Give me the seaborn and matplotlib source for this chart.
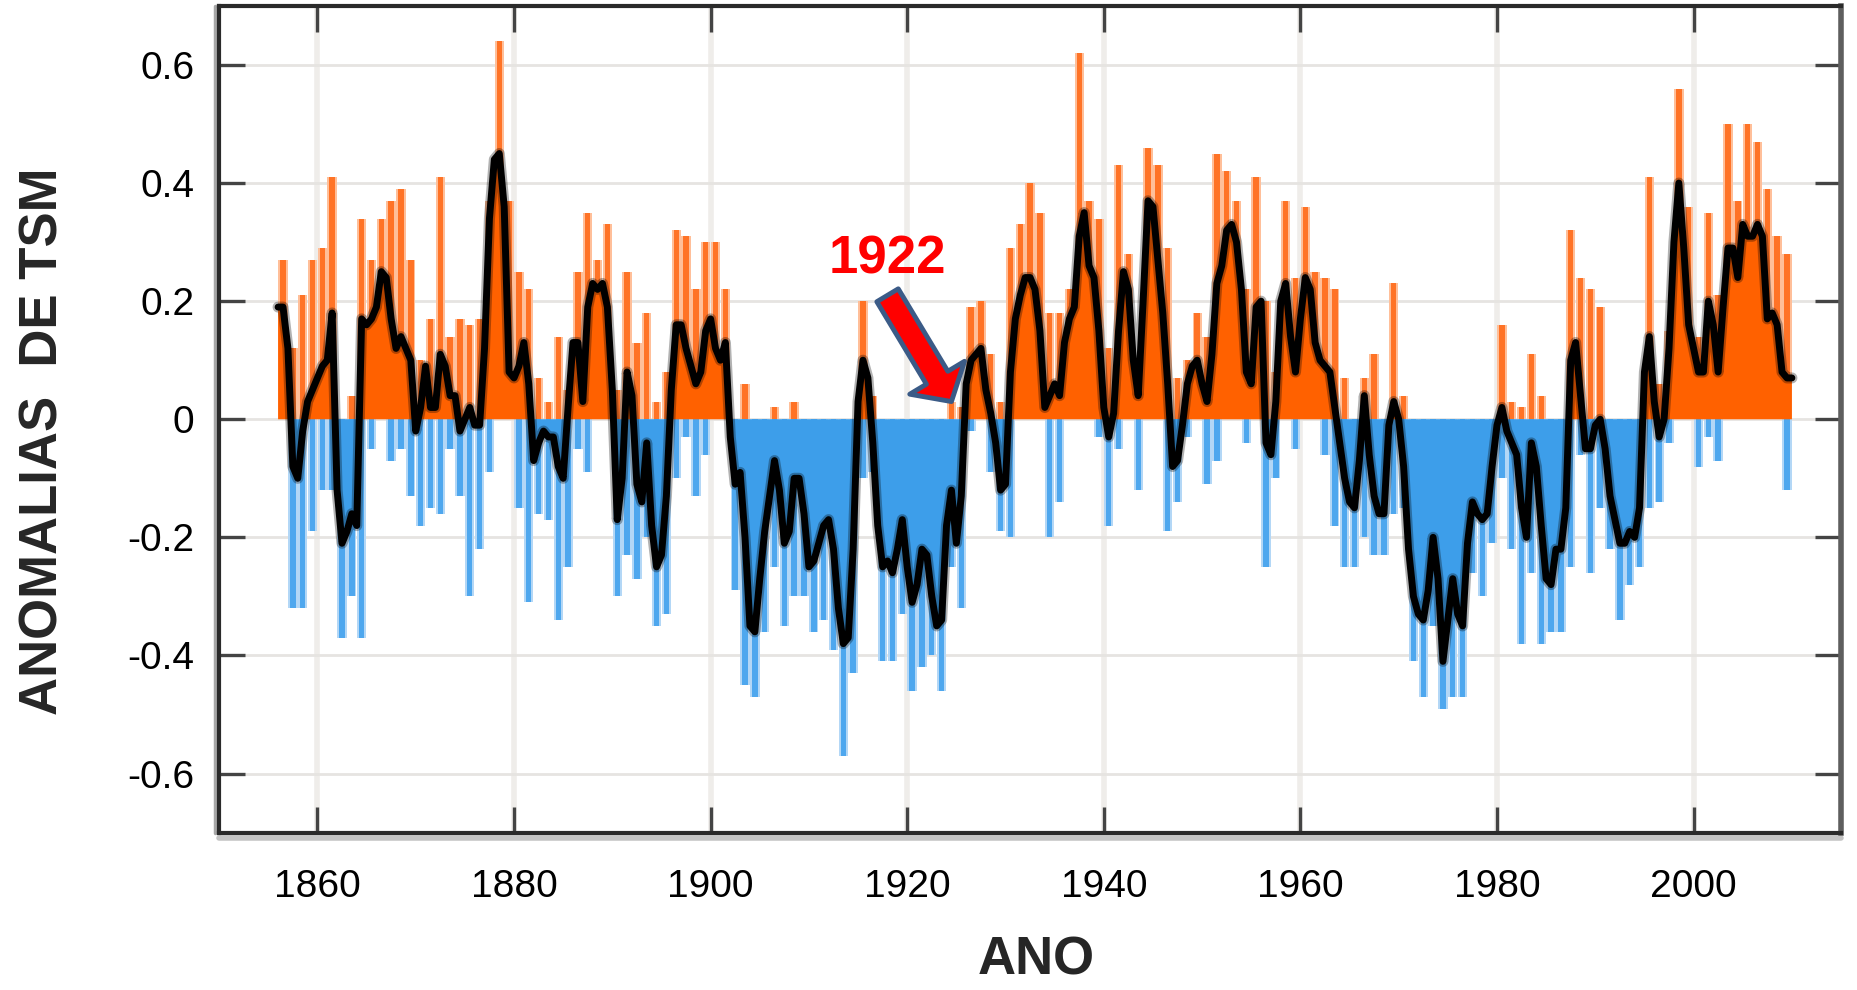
"""Anomalias de TSM (1856-2010) com destaque para 1922."""
import numpy as np
import pandas as pd
import matplotlib
matplotlib.use("Agg")
import matplotlib.pyplot as plt
import matplotlib.transforms as mtransforms
import seaborn as sns

# curva suavizada (linha preta), passo de meio ano a partir de 1856.0
SMOOTH_START = 1856.0
smooth_anom = [
    0.19, 0.19, 0.12, -0.08, -0.10, -0.02, 0.03, 0.05, 0.07, 0.09, 0.10, 0.18, -0.12, -0.21, -0.19, -0.16, -0.18, 0.17, 0.16, 0.17,
    0.19, 0.25, 0.24, 0.17, 0.12, 0.14, 0.12, 0.10, -0.02, 0.02, 0.09, 0.02, 0.02, 0.11, 0.09, 0.04, 0.04, -0.02, 0.00, 0.02,
    -0.01, -0.01, 0.12, 0.34, 0.44, 0.45, 0.36, 0.08, 0.07, 0.09, 0.13, 0.06, -0.07, -0.04, -0.02, -0.03, -0.03, -0.08, -0.10, 0.02,
    0.13, 0.13, 0.03, 0.19, 0.23, 0.22, 0.23, 0.19, 0.05, -0.17, -0.10, 0.08, 0.04, -0.11, -0.14, -0.04, -0.18, -0.25, -0.23, -0.13,
    0.05, 0.16, 0.16, 0.12, 0.09, 0.06, 0.08, 0.15, 0.17, 0.12, 0.10, 0.13, -0.03, -0.11, -0.09, -0.20, -0.35, -0.36, -0.27, -0.19,
    -0.13, -0.07, -0.12, -0.21, -0.19, -0.10, -0.10, -0.16, -0.25, -0.24, -0.21, -0.18, -0.17, -0.22, -0.32, -0.38, -0.37, -0.22, 0.03, 0.10,
    0.07, -0.04, -0.18, -0.25, -0.24, -0.26, -0.22, -0.17, -0.25, -0.31, -0.28, -0.22, -0.23, -0.30, -0.35, -0.34, -0.18, -0.12, -0.21, -0.13,
    0.06, 0.10, 0.11, 0.12, 0.05, 0.01, -0.04, -0.12, -0.11, 0.08, 0.17, 0.21, 0.24, 0.24, 0.22, 0.15, 0.02, 0.04, 0.06, 0.04,
    0.13, 0.17, 0.19, 0.31, 0.35, 0.26, 0.24, 0.15, 0.02, -0.03, 0.01, 0.15, 0.25, 0.22, 0.10, 0.04, 0.20, 0.37, 0.36, 0.27,
    0.18, 0.06, -0.08, -0.07, -0.01, 0.06, 0.09, 0.10, 0.06, 0.03, 0.11, 0.23, 0.26, 0.32, 0.33, 0.30, 0.22, 0.08, 0.06, 0.19,
    0.20, -0.04, -0.06, 0.03, 0.20, 0.23, 0.14, 0.08, 0.17, 0.24, 0.22, 0.13, 0.10, 0.09, 0.08, 0.02, -0.04, -0.10, -0.14, -0.15,
    -0.07, 0.04, -0.06, -0.13, -0.16, -0.16, -0.01, 0.03, 0.00, -0.08, -0.22, -0.30, -0.33, -0.34, -0.29, -0.20, -0.27, -0.41, -0.34, -0.27,
    -0.33, -0.35, -0.21, -0.14, -0.16, -0.17, -0.16, -0.08, -0.01, 0.02, -0.02, -0.04, -0.06, -0.15, -0.20, -0.04, -0.08, -0.18, -0.27, -0.28,
    -0.22, -0.22, -0.15, 0.10, 0.13, 0.04, -0.05, -0.05, -0.01, 0.00, -0.05, -0.13, -0.17, -0.21, -0.21, -0.19, -0.20, -0.15, 0.08, 0.14,
    0.03, -0.03, 0.00, 0.12, 0.30, 0.40, 0.29, 0.16, 0.12, 0.08, 0.08, 0.20, 0.16, 0.08, 0.19, 0.29, 0.29, 0.24, 0.33, 0.31,
    0.31, 0.33, 0.31, 0.17, 0.18, 0.16, 0.08, 0.07, 0.07,
]

# extremos anuais dos valores mensais (barras), 1856 .. 2009
SPIKE_START = 1856
spike_hi = [
    0.27, 0.12, 0.21, 0.27, 0.29, 0.41, 0.00, 0.04, 0.34, 0.27,
    0.34, 0.37, 0.39, 0.27, 0.10, 0.17, 0.41, 0.14, 0.17, 0.16,
    0.17, 0.37, 0.64, 0.37, 0.25, 0.22, 0.07, 0.03, 0.14, 0.05,
    0.25, 0.35, 0.27, 0.33, 0.05, 0.25, 0.13, 0.18, 0.03, 0.08,
    0.32, 0.31, 0.22, 0.30, 0.30, 0.22, 0.00, 0.06, 0.00, 0.00,
    0.02, 0.00, 0.03, 0.00, 0.00, 0.00, 0.00, 0.00, 0.00, 0.20,
    0.04, 0.00, 0.00, 0.00, 0.00, 0.00, 0.00, 0.00, 0.03, 0.02,
    0.19, 0.20, 0.11, 0.03, 0.29, 0.33, 0.40, 0.35, 0.18, 0.18,
    0.22, 0.62, 0.37, 0.34, 0.12, 0.43, 0.28, 0.08, 0.46, 0.43,
    0.29, 0.07, 0.10, 0.18, 0.14, 0.45, 0.42, 0.37, 0.22, 0.41,
    0.20, 0.08, 0.37, 0.24, 0.36, 0.25, 0.24, 0.22, 0.07, 0.00,
    0.07, 0.11, 0.00, 0.23, 0.04, 0.00, 0.00, 0.00, 0.00, 0.00,
    0.00, 0.00, 0.00, 0.00, 0.16, 0.03, 0.02, 0.11, 0.04, 0.00,
    0.00, 0.32, 0.24, 0.22, 0.19, 0.00, 0.00, 0.00, 0.00, 0.41,
    0.06, 0.15, 0.56, 0.36, 0.14, 0.35, 0.21, 0.50, 0.37, 0.50,
    0.47, 0.39, 0.31, 0.28,
]
spike_lo = [
    0.00, -0.32, -0.32, -0.19, -0.12, -0.12, -0.37, -0.30, -0.37, -0.05,
    0.00, -0.07, -0.05, -0.13, -0.18, -0.15, -0.16, -0.05, -0.13, -0.30,
    -0.22, -0.09, 0.00, 0.00, -0.15, -0.31, -0.16, -0.17, -0.34, -0.25,
    -0.05, -0.09, 0.00, 0.00, -0.30, -0.23, -0.27, -0.20, -0.35, -0.33,
    -0.10, -0.03, -0.13, -0.06, 0.00, 0.00, -0.29, -0.45, -0.47, -0.36,
    -0.25, -0.35, -0.30, -0.30, -0.36, -0.34, -0.39, -0.57, -0.43, -0.10,
    -0.09, -0.41, -0.41, -0.33, -0.46, -0.42, -0.40, -0.46, -0.25, -0.32,
    -0.02, 0.00, -0.09, -0.19, -0.20, 0.00, 0.00, 0.00, -0.20, -0.14,
    0.00, 0.00, 0.00, -0.03, -0.18, -0.05, 0.00, -0.12, 0.00, 0.00,
    -0.19, -0.14, -0.03, 0.00, -0.11, -0.07, 0.00, 0.00, -0.04, 0.00,
    -0.25, -0.10, 0.00, -0.05, 0.00, 0.00, -0.06, -0.18, -0.25, -0.25,
    -0.20, -0.23, -0.23, -0.16, -0.15, -0.41, -0.47, -0.35, -0.49, -0.47,
    -0.47, -0.26, -0.30, -0.21, -0.10, -0.22, -0.38, -0.26, -0.38, -0.36,
    -0.36, -0.25, -0.06, -0.26, -0.15, -0.22, -0.34, -0.28, -0.25, -0.15,
    -0.14, -0.04, 0.00, 0.00, -0.08, -0.03, -0.07, 0.00, 0.00, 0.00,
    0.00, 0.00, 0.00, -0.12,
]

xticks = [1860, 1880, 1900, 1920, 1940, 1960, 1980, 2000]
yticks = [-0.6, -0.4, -0.2, 0.0, 0.2, 0.4, 0.6]
ytick_labels = ["-0.6", "-0.4", "-0.2", "0", "0.2", "0.4", "0.6"]

highlight_year = "1922"
arrow_from = (1918.0, 0.21)
arrow_to = (1924.5, 0.03)

ORANGE = "#ff6100"
ORANGE_CORE = "#ff7326"
ORANGE_HALO = "#ffbf99"
BLUE = "#3d9eea"
BLUE_CORE = "#4ea7ee"
BLUE_HALO = "#b3d7f6"

sns.set_theme(style="white")
plt.rcParams["font.family"] = ["Liberation Sans", "DejaVu Sans"]

smooth_years = SMOOTH_START + 0.5 * np.arange(len(smooth_anom))
smooth = np.array(smooth_anom)
spike_x = SPIKE_START + 0.5 + np.arange(len(spike_hi))
df = pd.DataFrame({"ano": smooth_years, "anom": smooth})

fig = plt.figure(figsize=(18.57, 9.9), dpi=100)
ax = fig.add_axes([0.118, 0.159, 0.8734, 0.835])

# grade
for xt in xticks:
    ax.axvline(xt, color="#efedea", lw=4, zorder=0)
for yt in yticks:
    ax.axhline(yt, color="#e6e4e1", lw=2, zorder=0)

# barras mensais (extremos)
ax.bar(spike_x, spike_hi, width=0.95, color=ORANGE_HALO, lw=0, zorder=1)
ax.bar(spike_x, spike_hi, width=0.55, color=ORANGE_CORE, lw=0, zorder=1.5)
ax.bar(spike_x, spike_lo, width=0.95, color=BLUE_HALO, lw=0, zorder=1)
ax.bar(spike_x, spike_lo, width=0.55, color=BLUE_CORE, lw=0, zorder=1.5)

# preenchimento da curva suavizada
ax.fill_between(smooth_years, smooth, 0, where=smooth >= 0, interpolate=True,
                color=ORANGE, lw=0, zorder=2)
ax.fill_between(smooth_years, smooth, 0, where=smooth <= 0, interpolate=True,
                color=BLUE, lw=0, zorder=2)

ax.plot(smooth_years, smooth, color="black", lw=8, alpha=0.3, zorder=3)
sns.lineplot(data=df, x="ano", y="anom", color="black", lw=5, ax=ax,
             zorder=4, sort=False)

# destaque 1922
ax.text(1918.0, 0.27, highlight_year, color="#ff0000", fontsize=38,
        fontweight="bold", ha="center", va="center", zorder=6)
ax.annotate("", xy=arrow_to, xytext=arrow_from, zorder=6,
            arrowprops=dict(arrowstyle="simple,head_length=1.0,head_width=2.3,tail_width=0.9",
                            fc="#ff0000", ec="#3b5b87", lw=3.5, mutation_scale=20,
                            shrinkA=0, shrinkB=0))

ax.set_xlim(1850, 2015)
ax.set_ylim(-0.7, 0.7)
ax.set_xticks(xticks)
ax.set_xticklabels([str(x) for x in xticks])
ax.set_yticks(yticks)
ax.set_yticklabels(ytick_labels)
ax.tick_params(axis="both", direction="in", length=19, width=2.4, color="#444444",
               labelsize=28, labelcolor="black")
ax.tick_params(axis="y", left=True, right=True, pad=18)
ax.tick_params(axis="x", bottom=True, top=True, pad=26)

ax.set_xlabel("ANO", fontsize=38, fontweight="bold", va="center")
ax.xaxis.set_label_coords(0.504, -0.155)
ax.set_ylabel("ANOMALIAS  DE TSM", fontsize=38, fontweight="bold", va="center")
ax.yaxis.set_label_coords(-0.1085, 0.474)

for side in ["top", "left", "bottom"]:
    ax.spines[side].set_color("#2a2a2a")
    ax.spines[side].set_linewidth(3)
ax.spines["right"].set_color("#5e5e5e")
ax.spines["right"].set_linewidth(4)
for sp in ax.spines.values():
    sp.set_zorder(7)

# sombras cinzas nas bordas
off_b = mtransforms.ScaledTranslation(0, -5 / 100, fig.dpi_scale_trans)
ax.plot([0, 1], [0, 0], transform=ax.transAxes + off_b, color="#c4c4c4",
        lw=4, clip_on=False, zorder=6)
off_l = mtransforms.ScaledTranslation(-4 / 100, 0, fig.dpi_scale_trans)
ax.plot([0, 0], [0, 1], transform=ax.transAxes + off_l, color="#a8a8a8",
        lw=2.5, clip_on=False, zorder=6)

fig.savefig("out.png", dpi=100)
plt.close(fig)
